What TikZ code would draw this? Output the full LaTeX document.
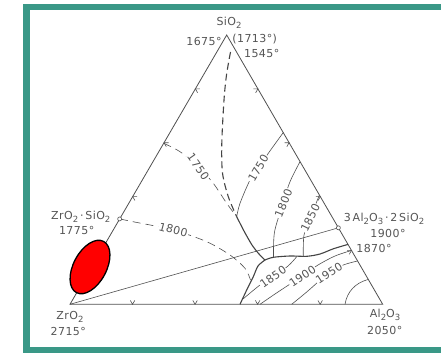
\documentclass[tikz,border=0pt]{standalone}
\usepackage{fontspec}
\setmainfont{DejaVu Sans}[LetterSpace=4]
\usetikzlibrary{calc,shapes.geometric}
\definecolor{teal1}{RGB}{58,152,135}
\definecolor{ink}{RGB}{80,80,80}
\definecolor{txt}{RGB}{85,85,85}
\newcommand\dn[1]{\raisebox{-0.5ex}{\fontsize{8.5}{9}\selectfont #1}}
\begin{document}
\begin{tikzpicture}[x=1pt,y=-1pt,
  lbl/.style={text=txt, font=\fontsize{11}{13}\selectfont, inner sep=0.5pt},
  cl/.style={lbl, fill=white, inner sep=0.8pt},
  iso/.style={draw=ink, line width=0.6pt},
  isod/.style={iso, dash pattern=on 8pt off 5pt},
  bnd/.style={draw=ink!85!black, line width=1.1pt},
  bndd/.style={bnd, dash pattern=on 7pt off 4pt},
  edge/.style={draw=ink, line width=0.8pt},
  tk/.style={draw=ink, line width=0.6pt}]
\useasboundingbox (0,0) rectangle (441,353);
\clip (0,0) rectangle (441,353);
\fill[white] (0,0) rectangle (441,353);
\draw[teal1, line width=6.5pt] (26.5,7) rectangle (470,350);

% vertices
\coordinate (A) at (226.7,35);
\coordinate (Z) at (70,304.3);
\coordinate (L) at (382.7,304.3);
\coordinate (ZS) at ($(Z)!0.317!(A)$);
\coordinate (Mu) at ($(L)!0.284!(A)$);

% triangle
\draw[edge] (Z) -- (L) -- (A) -- cycle;

% ticks
\foreach \t in {0.2,0.4,0.6,0.8} {
  \draw[tk] ($(Z)!\t!(L)+(240:4.5)$) -- ($(Z)!\t!(L)$) -- ($(Z)!\t!(L)+(300:4.5)$);
  \draw[tk] ($(Z)!\t!(A)+(0:4.5)$) -- ($(Z)!\t!(A)$) -- ($(Z)!\t!(A)+(60:4.5)$);
  \draw[tk] ($(L)!\t!(A)+(180:4.5)$) -- ($(L)!\t!(A)$) -- ($(L)!\t!(A)+(120:4.5)$);
}

% join line
\draw[iso] (Z) -- (Mu);

% boundaries
\draw[bndd] plot[smooth] coordinates {(230.5,52) (226.5,75) (224,100) (221.8,143) (222.5,173) (228.3,196.7) (236.7,216.7)};
\draw[bnd] plot[smooth] coordinates {(236.7,216.7) (244,231) (252,245) (259,254) (265,260)};
\draw[bnd] plot[smooth] coordinates {(265,260) (273.3,257.3) (290,256) (306.7,256.3) (320,254) (333.3,248.8) (348,244.4)};
\draw[bnd] plot[smooth] coordinates {(265,260) (258,266) (253.3,276.7) (246.7,290) (240,304.3)};

% isotherms
\draw[isod] plot[smooth] coordinates {(163.7,143.3) (180,151.7) (198.3,166.7) (213.3,183.3) (226.7,203.3) (236.7,216.7)};
\node[cl, rotate=-55] (l1750a) at (198.3,166.7) {1750};
\draw[isod] plot[smooth] coordinates {(120,219) (133,221.7) (173.3,230) (206.7,241.7) (230,255) (245,268.3) (250.5,280)};
\node[cl, rotate=-15] (l1800a) at (173.3,230) {1800};

\draw[iso] plot[smooth] coordinates {(236.7,216.7) (240,203.3) (250,180) (258.3,168.3) (268.3,153.3) (283.3,132.5)};
\node[cl, rotate=60] (l1750b) at (258.3,168.3) {1750};
\draw[iso] plot[smooth] coordinates {(273.5,257.3) (274.5,232) (283,203.3) (290,181.7) (300,161.7)};
\node[cl, rotate=68] (l1800b) at (283.5,203.3) {1800};
\draw[iso] plot[smooth] coordinates {(303.3,256.4) (304,235) (310.3,218) (319.4,195)};
\node[cl, rotate=64] (l1850b) at (310.3,218) {1850};

\draw[iso] plot[smooth] coordinates {(243,299) (260,285) (273.3,276.7) (288,266) (297,256.4)};
\node[cl, rotate=35] (l1850c) at (273,277) {1850};
\draw[iso] plot[smooth] coordinates {(260,304.3) (275,294) (301.7,276.3) (318,265) (335,256) (351.3,250.5)};
\node[cl, rotate=34] (l1900c) at (302.5,276.3) {1900};
\draw[iso] plot[smooth] coordinates {(291.7,304.3) (306.7,292) (328.3,273.3) (343.3,265) (357.5,261)};
\node[cl, rotate=33] (l1950c) at (329,273) {1950};
\draw[iso] (345,304.3) .. controls (347,292) and (355,283) .. (368,279.5);

% compound points
\node[circle, draw=ink, fill=white, inner sep=0pt, minimum size=4pt, line width=0.6pt] (zs) at (ZS) {};
\node[circle, draw=ink, fill=white, inner sep=0pt, minimum size=4pt, line width=0.6pt] (mu) at (Mu) {};

% red region
\node[ellipse, draw=black, fill=red, line width=1.3pt, minimum width=58pt, minimum height=33pt, inner sep=0pt, rotate=62] (spot) at (90,267) {};

% labels
\node[lbl] (tSi) at (229,23) {SiO\dn{2}};
\node[lbl] (t1675) at (204,41.7) {1675°};
\node[lbl] (t1713) at (254.7,39) {(1713°)};
\node[lbl] (t1545) at (261.7,53.3) {1545°};
\node[lbl] (tZS) at (80.8,216.7) {ZrO\dn{2}\,·\,SiO\dn{2}};
\node[lbl] (t1775) at (76.7,230.5) {1775°};
\node[lbl] (tMu) at (384,219) {3\,Al\dn{2}O\dn{3}\,·\,2\,SiO\dn{2}};
\node[lbl] (t1900) at (388,233.3) {1900°};
\node[lbl] (t1870) at (374,248.3) {1870°};
\node[lbl] (tZr) at (70,316.7) {ZrO\dn{2}};
\node[lbl] (t2715) at (68.3,331.7) {2715°};
\node[lbl] (tAl) at (385,315) {Al\dn{2}O\dn{3}};
\node[lbl] (t2050) at (384.7,330.7) {2050°};
\end{tikzpicture}
\end{document}
